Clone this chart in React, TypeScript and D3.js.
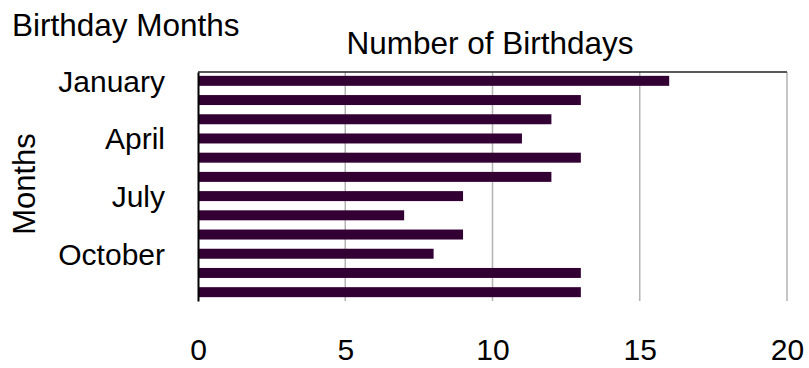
import React, { useEffect, useRef } from 'react';
import * as d3 from 'd3';

const months = ['January', 'February', 'March', 'April', 'May', 'June', 'July', 'August', 'September', 'October', 'November', 'December'];
const birthdays = [16, 13, 12, 11, 13, 12, 9, 7, 9, 8, 13, 13];
const xTicks = [0, 5, 10, 15, 20];
const shownMonths = ['January', 'April', 'July', 'October'];

const W = 809;
const H = 368;

export default function App() {
  const svgRef = useRef<SVGSVGElement>(null);

  useEffect(() => {
    if (!svgRef.current) return;
    const margin = { top: 72, right: 22, bottom: 67, left: 198 };

    d3.select(svgRef.current).selectAll('*').remove();
    const svg = d3.select(svgRef.current).attr('width', W).attr('height', H);

    const x = d3.scaleLinear().domain([0, 20]).range([margin.left, W - margin.right]);
    const y = d3.scaleBand<string>()
      .domain(months)
      .range([margin.top, H - margin.bottom])
      .paddingInner(0.48)
      .paddingOuter(0.2);

    const font = '"Liberation Sans", Arial, sans-serif';

    // gridlines
    svg.append('g')
      .selectAll('line')
      .data(xTicks.filter(t => t > 0))
      .enter()
      .append('line')
      .attr('x1', d => x(d))
      .attr('x2', d => x(d))
      .attr('y1', margin.top)
      .attr('y2', H - margin.bottom)
      .attr('stroke', '#b3b3b3')
      .attr('stroke-width', 1.5);

    // bars
    svg.append('g')
      .selectAll('rect')
      .data(months)
      .enter()
      .append('rect')
      .attr('x', x(0))
      .attr('y', d => y(d)!)
      .attr('width', (d, i) => x(birthdays[i]) - x(0))
      .attr('height', y.bandwidth())
      .attr('fill', '#330033');

    // top border
    svg.append('line')
      .attr('x1', x(0)).attr('x2', x(20))
      .attr('y1', margin.top).attr('y2', margin.top)
      .attr('stroke', '#222').attr('stroke-width', 1.5);

    // left axis with labels
    const yAxis = svg.append('g')
      .attr('transform', `translate(${x(0)},0)`)
      .call(d3.axisLeft(y).tickSize(0).tickPadding(33)
        .tickFormat(d => (shownMonths.includes(d) ? d : '')));
    yAxis.select('.domain').attr('stroke', '#000').attr('stroke-width', 2);
    yAxis.selectAll('text')
      .attr('font-family', font)
      .attr('font-size', 30)
      .attr('fill', '#000')
      .attr('dy', '0.36em');

    // bottom axis labels
    const xAxis = svg.append('g')
      .attr('transform', `translate(0,${H - margin.bottom})`)
      .call(d3.axisBottom(x).tickValues(xTicks).tickSize(0).tickPadding(38));
    xAxis.select('.domain').remove();
    xAxis.selectAll('text')
      .attr('font-family', font)
      .attr('font-size', 30)
      .attr('fill', '#000');

    svg.append('text')
      .attr('x', 12).attr('y', 36)
      .attr('font-family', font).attr('font-size', 31.5)
      .text('Birthday Months');

    svg.append('text')
      .attr('x', 490).attr('y', 54)
      .attr('text-anchor', 'middle')
      .attr('font-family', font).attr('font-size', 31.5)
      .text('Number of Birthdays');

    svg.append('text')
      .attr('transform', 'translate(35,184) rotate(-90)')
      .attr('text-anchor', 'middle')
      .attr('font-family', font).attr('font-size', 31)
      .text('Months');
  }, []);

  return <svg ref={svgRef} style={{ display: 'block', position: 'absolute', left: 0, top: 0 }} />;
}
